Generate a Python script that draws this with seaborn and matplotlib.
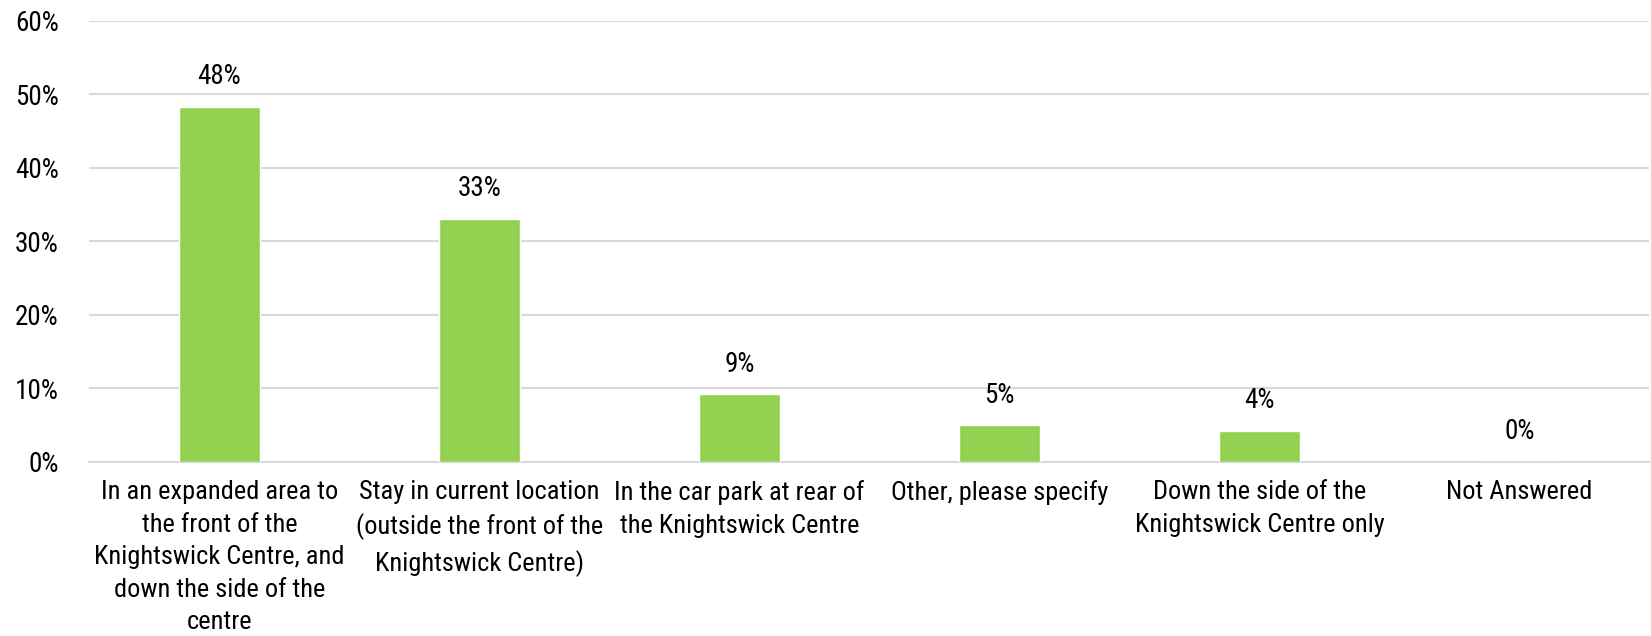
import matplotlib
matplotlib.use("Agg")
import matplotlib.pyplot as plt
import pandas as pd
import seaborn as sns

categories = [
    "In an expanded area to\nthe front of the\nKnightswick Centre, and\ndown the side of the\ncentre",
    "Stay in current location\n(outside the front of the\nKnightswick Centre)",
    "In the car park at rear of\nthe Knightswick Centre",
    "Other, please specify",
    "Down the side of the\nKnightswick Centre only",
    "Not Answered",
]
values = [48.3, 33.1, 9.2, 5.0, 4.2, 0.0]
value_labels = ["48%", "33%", "9%", "5%", "4%", "0%"]
y_ticks = [0, 10, 20, 30, 40, 50, 60]

sns.set_theme(style="white")
plt.rcParams["font.family"] = ["Roboto Condensed", "DejaVu Sans"]

df = pd.DataFrame({"category": categories, "value": values})

fig = plt.figure(figsize=(16.51, 6.36), dpi=100)
ax = fig.add_axes([0.0542, 0.2736, 0.9448, 0.6934])

sns.barplot(data=df, x="category", y="value", color="#92D050", width=0.31,
            saturation=1, ax=ax, zorder=3)

ax.set_ylim(0, 60)
ax.set_yticks(y_ticks)
ax.set_yticklabels([f"{t}%" for t in y_ticks], fontsize=19.5, color="black")
ax.yaxis.grid(True, color="#D9D9D9", linewidth=1.5, zorder=0)
ax.set_axisbelow(True)
for side in ["top", "right", "left"]:
    ax.spines[side].set_visible(False)
ax.spines["bottom"].set_color("#D9D9D9")
ax.spines["bottom"].set_linewidth(1.5)
ax.tick_params(axis="y", length=0, pad=22)
ax.tick_params(axis="x", length=0, pad=13, labelsize=19, labelcolor="black")
ax.set_xlabel("")
ax.set_ylabel("")
ax.set_xlim(-0.5, len(categories) - 0.5)
for lbl in ax.get_xticklabels():
    lbl.set_linespacing(1.45)

ax.bar_label(ax.containers[0], labels=value_labels, padding=12, fontsize=19.5, color="black")

fig.savefig("out.png", dpi=100)
